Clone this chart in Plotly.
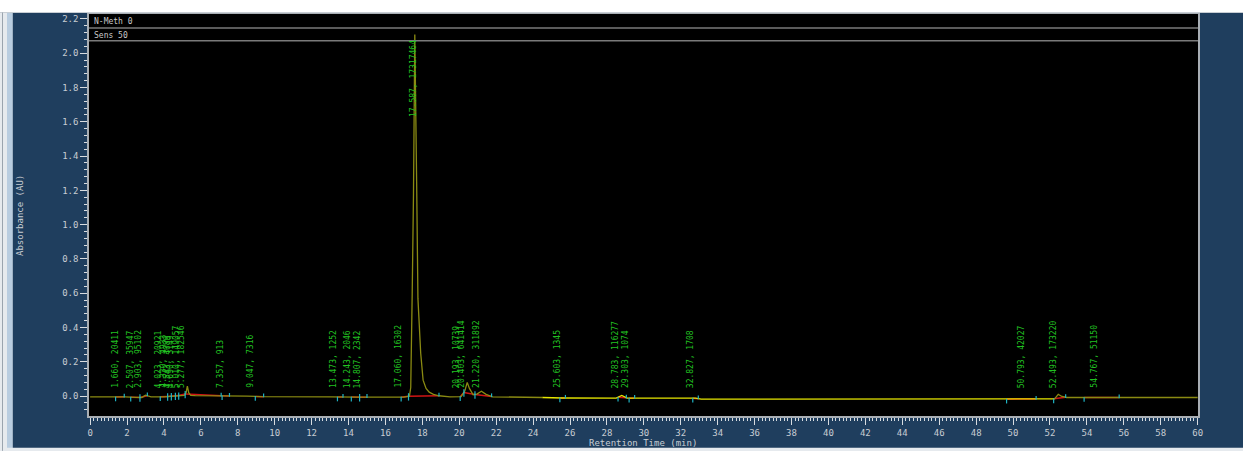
import numpy as np
import plotly.graph_objects as go

# ---------------- data ----------------
time_min = [0.0, 1.4, 1.66, 1.9, 2.5, 2.8, 3.0, 3.3, 4.0, 4.4, 4.7, 5.1, 5.2, 5.27, 5.34,
            5.45, 5.7, 6.5, 7.2, 7.6, 8.5, 9.3, 10.5, 13.0, 14.5, 16.0, 17.0, 17.3, 17.37,
            17.45, 17.52, 17.59, 17.63, 17.69, 17.76, 17.84, 17.91, 18.04, 18.2, 18.37,
            18.6, 18.9, 19.5, 20.1, 20.3, 20.43, 20.55, 20.75, 20.95, 21.2, 21.45, 21.8,
            22.5, 24.5, 25.6, 28.5, 28.8, 29.1, 32.8, 33.1, 40.0, 49.5, 52.25, 52.45,
            52.65, 52.9, 56.0, 60.0]
absorbance = [-0.005, -0.005, -0.002, -0.005, -0.007, -0.008, 0.006, -0.004, -0.004, 0.0,
              0.003, 0.004, 0.02, 0.058, 0.02, 0.004, 0.003, 0.003, 0.002, 0.0, 0.0, -0.003,
              -0.005, -0.005, -0.006, -0.007, -0.006, 0.0, 0.05, 0.60, 1.18, 2.11, 1.85,
              1.25, 0.57, 0.35, 0.25, 0.093, 0.045, 0.023, 0.01, 0.002, -0.004, -0.003, 0.03,
              0.08, 0.045, 0.008, 0.012, 0.028, 0.01, -0.004, -0.006, -0.008, -0.011,
              -0.012, 0.004, -0.012, -0.012, -0.018, -0.018, -0.018, -0.016, 0.01, -0.002,
              -0.008, -0.008, -0.008]

peak_rt = [1.660, 2.507, 2.903, 4.023, 4.330, 4.543, 4.690, 5.010, 5.277, 7.357, 9.047,
           13.473, 14.243, 14.807, 17.060, 17.587, 20.193, 20.403, 21.220, 25.603,
           28.783, 29.303, 32.827, 50.793, 52.493, 54.767]
peak_area = [20411, 35947, 95102, 20921, 4933, 4089, 3149, 149057, 182546, 913, 7316,
             1252, 2046, 2342, 16302, 17317464, 10739, 641414, 311892, 1345,
             116277, 1074, 1708, 42027, 173220, 51150]
peak_start = [1.38, 2.20, 2.70, 3.80, 4.20, 4.40, 4.62, 4.80, 5.15, 7.15, 8.95,
              13.40, 14.15, 14.60, 16.85, 17.25, 20.05, 20.25, 20.85, 25.45,
              28.60, 29.20, 32.65, 49.65, 52.20, 53.85]
peak_end = [1.85, 2.70, 3.10, 4.20, 4.40, 4.62, 4.80, 5.15, 7.10, 7.55, 9.40,
            13.70, 14.60, 15.00, 17.25, 18.90, 20.25, 20.85, 21.75, 25.75,
            29.05, 29.50, 32.95, 51.25, 52.85, 55.75]

# trace colour segments (start, end, colour)
seg_start = [0.0, 24.5, 52.25]
seg_end = [24.5, 52.25, 60.0]
seg_color = ["#8a8a12", "#e6e600", "#8a8a12"]

header_labels = ["N-Meth 0", "Sens 50"]

# ---------------- figure ----------------
W, H = 1243, 451
ML, MR, MT, MB = 89, 45, 12, 35
PW, PH = W - ML - MR, H - MT - MB


def px(xp):
    return (xp - ML) / PW


def py(yp):
    return (H - MB - yp) / PH


t = np.array(time_min)
a = np.array(absorbance)

fig = go.Figure()

# integration baselines (red)
for s, e in zip(peak_start, peak_end):
    fig.add_trace(go.Scatter(x=[s, e], y=[np.interp(s, t, a), np.interp(e, t, a)],
                             mode="lines", line=dict(color="#d01414", width=1.5),
                             hoverinfo="skip", showlegend=False))

# chromatogram
for s, e, c in zip(seg_start, seg_end, seg_color):
    m = (t >= s) & (t <= e)
    fig.add_trace(go.Scatter(x=t[m], y=a[m], mode="lines",
                             line=dict(color=c, width=1.3), showlegend=False))

# peak start / end markers (cyan)
mx, my = [], []
for s in peak_start:
    b = np.interp(s, t, a)
    mx += [s, s, None]
    my += [b - 0.025, b + 0.002, None]
for e in peak_end:
    b = np.interp(e, t, a)
    mx += [e, e, None]
    my += [b - 0.004, b + 0.018, None]
fig.add_trace(go.Scatter(x=mx, y=my, mode="lines", line=dict(color="#1fb4c4", width=1.2),
                         hoverinfo="skip", showlegend=False))

# green cursor triangles
fig.add_trace(go.Scatter(x=[-0.25], y=[1.05], mode="markers", cliponaxis=False,
                         marker=dict(symbol="triangle-right", size=7, color="#22d022"),
                         showlegend=False))
fig.add_trace(go.Scatter(x=[30], y=[-0.145], mode="markers", cliponaxis=False,
                         marker=dict(symbol="triangle-up", size=7, color="#22d022"),
                         showlegend=False))

ann = []
apex = float(a.max())
for rt, ar in zip(peak_rt, peak_area):
    big = np.interp(rt, t, a) > 1.0
    ann.append(dict(x=rt, y=(apex - 0.02) if big else 0.035, xref="x", yref="y",
                    text=f"{rt:.3f}, {ar}", textangle=-90, showarrow=False,
                    xanchor="center", yanchor="top" if big else "bottom",
                    xshift=-1 if big else -6,
                    font=dict(family="DejaVu Sans Mono", size=8, color="#22c022")))

for i, lab in enumerate(header_labels):
    ann.append(dict(x=px(92), y=py(20 + 13.5 * i), xref="paper", yref="paper", text=lab,
                    showarrow=False, xanchor="left", yanchor="middle",
                    font=dict(family="DejaVu Sans Mono", size=8, color="#c8c8c8")))

ann.append(dict(x=px(20), y=py(215), xref="paper", yref="paper", text="Absorbance (AU)",
                textangle=-90, showarrow=False, xanchor="center", yanchor="middle",
                font=dict(family="DejaVu Sans Mono", size=9, color="#c8cdd3")))
ann.append(dict(x=px(643), y=py(443), xref="paper", yref="paper", text="Retention Time (min)",
                showarrow=False, xanchor="center", yanchor="middle",
                font=dict(family="DejaVu Sans Mono", size=9, color="#c8cdd3")))

shapes = [
    # white top strip
    dict(type="rect", xref="paper", yref="paper", x0=px(-5), x1=px(W + 5), y0=py(10.5),
         y1=py(-5), fillcolor="#ffffff", line=dict(width=0), layer="below"),
    dict(type="line", xref="paper", yref="paper", x0=px(0), x1=px(W), y0=py(10.5), y1=py(10.5),
         line=dict(color="#c8ced4", width=1)),
    # left light strip
    dict(type="rect", xref="paper", yref="paper", x0=px(-5), x1=px(12.5), y0=py(H + 5),
         y1=py(10.5), fillcolor="#e6eaee", line=dict(width=0), layer="below"),
    dict(type="rect", xref="paper", yref="paper", x0=px(7), x1=px(12.5), y0=py(H), y1=py(10.5),
         fillcolor="#b9cde0", line=dict(width=0), layer="below"),
    dict(type="line", xref="paper", yref="paper", x0=px(2.5), x1=px(2.5), y0=py(H), y1=py(10.5),
         line=dict(color="#9aa4ae", width=1)),
    # bottom strip
    dict(type="rect", xref="paper", yref="paper", x0=px(-5), x1=px(W + 5), y0=py(H + 5),
         y1=py(448), fillcolor="#e6eaee", line=dict(width=0), layer="below"),
]
for i in range(len(header_labels)):
    yl = 26 + 13 * i
    shapes.append(dict(type="line", xref="paper", yref="paper", x0=0, x1=1,
                       y0=py(yl), y1=py(yl), line=dict(color="#7a7a7a", width=1.5)))

tickfont = dict(family="DejaVu Sans Mono", size=9, color="#c8cdd3")

fig.update_layout(
    width=W, height=H,
    margin=dict(l=ML, r=MR, t=MT, b=MB),
    paper_bgcolor="#1f3e5e", plot_bgcolor="#000000",
    showlegend=False,
    annotations=ann, shapes=shapes,
    xaxis=dict(range=[-0.06, 60.02], dtick=2, tick0=0, showgrid=False, zeroline=False,
               ticks="outside", ticklen=7, tickcolor="#d8dce0", tickwidth=1,
               minor=dict(dtick=0.2, ticks="outside", ticklen=3, tickcolor="#d8dce0"),
               showline=True, linecolor="#a8aeb4", linewidth=1.5, mirror=True,
               tickfont=tickfont),
    yaxis=dict(range=[-0.116, 2.229], dtick=0.2, tick0=0, tickformat=".1f", showgrid=False,
               zeroline=False, ticks="outside", ticklen=7, tickcolor="#d8dce0", tickwidth=1,
               minor=dict(dtick=0.04, ticks="outside", ticklen=3, tickcolor="#d8dce0"),
               showline=True, linecolor="#a8aeb4", linewidth=1.5, mirror=True,
               tickfont=tickfont),
)

fig.write_html("out.html", config={"displayModeBar": False},
               post_script="document.body.style.margin='0px';"
                           "document.body.style.overflow='hidden';")
